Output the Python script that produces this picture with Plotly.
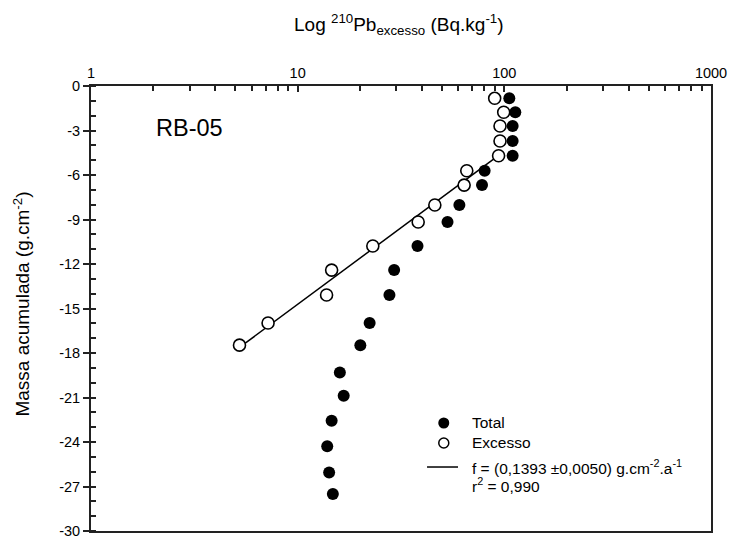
import numpy as np
import plotly.graph_objects as go

# ---- data ----
mass = [-0.83, -1.77, -2.70, -3.71, -4.70, -5.71, -6.68, -8.02, -9.17, -10.79,
        -12.41, -14.09, -15.98, -17.47, -19.31, -20.88, -22.57, -24.28, -26.05, -27.51]
pb_total = [105.7, 113, 109.7, 109.7, 109.7, 80.3, 78.0, 60.6, 53.1, 38.0,
            29.3, 27.8, 22.3, 20.1, 16.0, 16.7, 14.6, 13.9, 14.2, 14.8]
pb_excess = [89.8, 99.3, 95.3, 95.3, 93.8, 65.8, 63.9, 46.1, 38.3, 23.1,
             14.6, 13.8, 7.19, 5.23]
fit_first = 4  # first excess point used in the regression

x_ticks = [1, 10, 100, 1000]
x_ticktext = ["1", "10", "100", "1000"]
y_ticks = list(range(0, -31, -3))
y_ticktext = [str(v) for v in y_ticks]

FONT = "Arial, Liberation Sans, sans-serif"

mass_ex = mass[:len(pb_excess)]
fm = np.array(mass_ex[fit_first:])
fl = np.log10(np.array(pb_excess[fit_first:]))
slope, icpt = np.polyfit(fm, fl, 1)
line_m = np.array([fm.max(), fm.min()])
line_x = 10 ** (icpt + slope * line_m)

fig = go.Figure()
fig.add_trace(go.Scatter(x=pb_total, y=mass, mode="markers",
                         marker=dict(symbol="circle", size=12, color="black", line=dict(width=0)),
                         showlegend=False))
fig.add_trace(go.Scatter(x=line_x, y=line_m, mode="lines",
                         line=dict(color="black", width=1.5), showlegend=False))
fig.add_trace(go.Scatter(x=pb_excess, y=mass_ex, mode="markers",
                         marker=dict(symbol="circle", size=12, color="white",
                                     line=dict(color="black", width=1.6)),
                         showlegend=False))

# ---- legend keys on an overlay paper-like axis ----
fig.add_trace(go.Scatter(x=[0.569], y=[0.2427], mode="markers", xaxis="x2", yaxis="y2",
                         marker=dict(size=11, color="black", line=dict(width=0)),
                         showlegend=False, cliponaxis=False, hoverinfo="skip"))
fig.add_trace(go.Scatter(x=[0.569], y=[0.1978], mode="markers", xaxis="x2", yaxis="y2",
                         marker=dict(size=10, color="white", line=dict(color="black", width=1.5)),
                         showlegend=False, cliponaxis=False, hoverinfo="skip"))
fig.add_trace(go.Scatter(x=[0.542, 0.592], y=[0.1438, 0.1438], mode="lines", xaxis="x2", yaxis="y2",
                         line=dict(color="black", width=1.5),
                         showlegend=False, cliponaxis=False, hoverinfo="skip"))

minor_x = [m * 10 ** d for d in range(0, 3) for m in range(2, 10)]

axis_line = dict(showline=True, linecolor="#222", linewidth=2, mirror=True,
                 showgrid=False, zeroline=False, automargin=False)

fig.update_layout(
    width=731, height=538,
    margin=dict(l=91, r=20, t=86, b=7),
    paper_bgcolor="white", plot_bgcolor="white",
    font=dict(family=FONT, size=14, color="black"),
    xaxis=dict(type="log", side="top", range=[0, 3],
               tickvals=x_ticks, ticktext=x_ticktext, ticklabeloverflow="allow",
               ticks="inside", ticklen=6, tickwidth=1.5, tickcolor="#222",
               minor=dict(tickvals=minor_x, ticks="inside", ticklen=5, tickwidth=1.5, tickcolor="#222"),
               tickfont=dict(size=14.5), **axis_line),
    yaxis=dict(range=[-30, 0], tickvals=y_ticks, ticktext=y_ticktext, ticklabeloverflow="allow",
               ticks="outside", ticklen=6, tickwidth=1.5, tickcolor="#222",
               minor=dict(dtick=1, ticks="inside", ticklen=5, tickwidth=1.5, tickcolor="#222"),
               tickfont=dict(size=14.5), **axis_line),
    xaxis2=dict(overlaying="x", range=[0, 1], visible=False),
    yaxis2=dict(overlaying="y", range=[0, 1], visible=False),
    showlegend=False,
)

ann = dict(xref="paper", yref="paper", showarrow=False, font=dict(family=FONT, size=15.5, color="black"))
fig.add_annotation(text="Log <sup>210</sup>Pb<sub>excesso</sub> (Bq.kg<sup>-1</sup>)",
                   x=0.497, y=1.138, xanchor="center", yanchor="middle",
                   **{**ann, "font": dict(family=FONT, size=19, color="black")})
fig.add_annotation(text="Massa acumulada (g.cm<sup>-2</sup>)", textangle=-90,
                   x=-0.112, y=0.51, xanchor="center", yanchor="middle",
                   **{**ann, "font": dict(family=FONT, size=19, color="black")})
fig.add_annotation(text="RB-05", x=0.102, y=0.905, xanchor="left", yanchor="middle",
                   **{**ann, "font": dict(family=FONT, size=23.5, color="black")})
fig.add_annotation(text="Total", x=0.611, y=0.2427, xanchor="left", yanchor="middle", **ann)
fig.add_annotation(text="Excesso", x=0.611, y=0.1978, xanchor="left", yanchor="middle", **ann)
fig.add_annotation(text="f = (0,1393 \u00b10,0050) g.cm<sup>-2</sup>.a<sup>-1</sup>",
                   x=0.611, y=0.1438, xanchor="left", yanchor="middle", **ann)
fig.add_annotation(text="r<sup>2</sup> = 0,990", x=0.611, y=0.104, xanchor="left", yanchor="middle", **ann)

fig.write_html("out.html", config={"displayModeBar": False},
               post_script="document.body.style.margin='0';document.body.style.overflow='hidden';")
